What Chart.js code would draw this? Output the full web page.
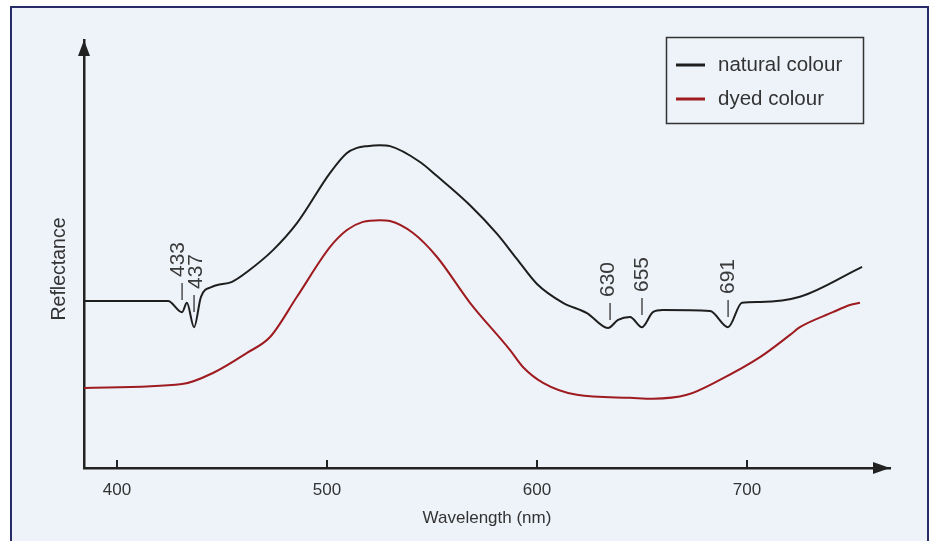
<!DOCTYPE html>
<html lang="en">
<head>
    <meta charset="UTF-8">
    <title>Reflectance spectra - natural vs dyed colour</title>
    <script src="https://cdn.jsdelivr.net/npm/chart.js"></script>
    <style>
        html, body { margin: 0; padding: 0; background: #ffffff; }
        body { width: 935px; height: 541px; position: relative; overflow: hidden; }
        #frame {
            position: absolute; left: 10px; top: 6px; width: 915px; height: 533px;
            background: #eef3fa; border: 2px solid #272b66; border-bottom: none;
        }
        .chart-container { position: absolute; left: 0; top: 0; width: 935px; height: 541px; }
    </style>
</head>
<body>
    <div id="frame"></div>
    <div class="chart-container">
        <canvas id="spectrumChart"></canvas>
    </div>

    <script>
        // natural colour (black curve): wavelength (nm) / reflectance (arbitrary units)
        const naturalWl = [384.3, 424.3, 431.0, 433.3, 436.7, 440.0, 445.2, 454.8, 461.9, 474.3,
                           485.7, 501.4, 509.5, 514.3, 519.0, 525.2, 530.0, 544.3, 552.4, 568.1,
                           581.0, 590.5, 600.0, 612.4, 623.8, 633.8, 638.6, 644.3, 650.0, 655.2,
                           660.0, 682.4, 691.0, 697.6, 706.2, 725.2, 754.8];
        const naturalR  = [39.0, 39.0, 36.4, 38.6, 32.9, 40.0, 42.3, 43.5, 45.8, 50.9,
                           57.2, 68.9, 73.6, 74.8, 75.2, 75.4, 75.2, 71.5, 68.2, 61.4,
                           54.7, 48.8, 43.0, 38.6, 36.2, 32.7, 34.6, 35.3, 32.9, 36.4,
                           36.9, 36.7, 32.9, 38.6, 38.8, 40.0, 47.0];

        // dyed colour (red curve)
        const dyedWl = [384.3, 431.0, 445.7, 461.9, 472.9, 485.7, 501.4, 509.5, 517.1, 525.2,
                        530.0, 541.0, 552.4, 568.1, 587.1, 593.3, 602.9, 619.0, 644.3, 655.2,
                        671.4, 687.1, 706.2, 720.5, 725.2, 740.9, 749.0, 753.8];
        const dyedR  = [18.7, 19.6, 22.2, 26.9, 30.6, 40.0, 51.6, 55.6, 57.5, 57.9,
                        57.7, 54.9, 49.3, 38.6, 27.6, 23.6, 19.9, 17.1, 16.4, 16.2,
                        17.1, 20.6, 25.9, 31.1, 32.9, 36.4, 38.1, 38.6];

        const xTicks = [400, 500, 600, 700];

        // absorption markers on the natural curve
        const peakLabels = ['433', '437', '630', '655', '691'];
        const peakWl     = [431.0, 436.7, 634.8, 650.0, 691.0];
        const peakBase   = [39.25, 36.45, 34.58, 35.75, 35.28];

        const ink = '#222222';
        const textColor = '#333333';
        const family = '"Liberation Sans", Arial, sans-serif';

        const decorPlugin = {
            id: 'decor',
            afterDraw(chart) {
                const { ctx, chartArea: a, scales: { x, y } } = chart;
                ctx.save();

                // tick marks pointing up from the x axis
                ctx.strokeStyle = ink;
                ctx.lineWidth = 2;
                xTicks.forEach(v => {
                    const px = x.getPixelForValue(v);
                    ctx.beginPath();
                    ctx.moveTo(px, a.bottom);
                    ctx.lineTo(px, a.bottom - 8);
                    ctx.stroke();
                });

                // arrow heads
                ctx.fillStyle = ink;
                ctx.beginPath();
                ctx.moveTo(a.left, a.top);
                ctx.lineTo(a.left - 6, a.top + 16);
                ctx.lineTo(a.left + 6, a.top + 16);
                ctx.closePath();
                ctx.fill();
                ctx.beginPath();
                ctx.moveTo(a.right, a.bottom);
                ctx.lineTo(a.right - 17, a.bottom - 6);
                ctx.lineTo(a.right - 17, a.bottom + 6);
                ctx.closePath();
                ctx.fill();

                // y axis title, a little below the middle of the axis like the original
                ctx.fillStyle = textColor;
                ctx.font = '19.5px ' + family;
                ctx.save();
                ctx.translate(a.left - 24, (a.top + a.bottom) / 2 + 15);
                ctx.rotate(-Math.PI / 2);
                ctx.textAlign = 'center';
                ctx.textBaseline = 'middle';
                ctx.fillText('Reflectance', 0, 0);
                ctx.restore();

                // wavelength markers (the first pair is spread apart a little)
                const textShift = [-4, 2, -2, 0, 0];
                ctx.strokeStyle = '#333';
                ctx.lineWidth = 1.3;
                ctx.fillStyle = '#3a3a3a';
                ctx.font = '21px ' + family;
                peakLabels.forEach((t, i) => {
                    const px = x.getPixelForValue(peakWl[i]);
                    const py = y.getPixelForValue(peakBase[i]);
                    ctx.beginPath();
                    ctx.moveTo(px, py);
                    ctx.lineTo(px, py - 17);
                    ctx.stroke();
                    ctx.save();
                    ctx.translate(px + textShift[i], py - 23);
                    ctx.rotate(-Math.PI / 2);
                    ctx.textAlign = 'left';
                    ctx.textBaseline = 'middle';
                    ctx.fillText(t, 0, 0);
                    ctx.restore();
                });

                // legend box
                const lx = 666, ly = 37, lw = 197, lh = 86;
                ctx.strokeStyle = '#333';
                ctx.lineWidth = 1.5;
                ctx.strokeRect(lx + 0.5, ly + 0.5, lw, lh);
                ctx.font = '20.5px ' + family;
                ctx.textAlign = 'left';
                ctx.textBaseline = 'middle';
                chart.data.datasets.forEach((ds, i) => {
                    const yy = ly + 28 + i * 34;
                    ctx.strokeStyle = ds.borderColor;
                    ctx.lineWidth = 3;
                    ctx.beginPath();
                    ctx.moveTo(lx + 10, yy);
                    ctx.lineTo(lx + 39, yy);
                    ctx.stroke();
                    ctx.fillStyle = textColor;
                    ctx.fillText(ds.label, lx + 52, yy);
                });

                ctx.restore();
            }
        };

        const ctxSpectrum = document.getElementById('spectrumChart').getContext('2d');
        new Chart(ctxSpectrum, {
            type: 'line',
            data: {
                datasets: [
                    {
                        label: 'natural colour',
                        data: naturalWl.map((w, i) => ({ x: w, y: naturalR[i] })),
                        borderColor: '#1e1e1e',
                        borderWidth: 2,
                        pointRadius: 0,
                        cubicInterpolationMode: 'monotone',
                        fill: false
                    },
                    {
                        label: 'dyed colour',
                        data: dyedWl.map((w, i) => ({ x: w, y: dyedR[i] })),
                        borderColor: '#9e1b1f',
                        borderWidth: 2,
                        pointRadius: 0,
                        cubicInterpolationMode: 'monotone',
                        fill: false
                    }
                ]
            },
            options: {
                responsive: true,
                maintainAspectRatio: false,
                animation: false,
                layout: { padding: { left: 45, right: 45, top: 40, bottom: 8 } },
                scales: {
                    x: {
                        type: 'linear',
                        min: 384.3,
                        max: 768.1,
                        afterBuildTicks: s => { s.ticks = xTicks.map(v => ({ value: v })); },
                        afterFit: s => { s.height = 65; },
                        grid: { display: false, drawTicks: false },
                        border: { display: true, color: ink, width: 2.5 },
                        ticks: { padding: 12, color: textColor, maxRotation: 0, font: { size: 17, family: family } },
                        title: { display: true, text: 'Wavelength (nm)', color: textColor, padding: 4, font: { size: 17, family: family } }
                    },
                    y: {
                        min: 0,
                        max: 100,
                        afterFit: s => { s.width = 39; },
                        grid: { display: false, drawTicks: false },
                        border: { display: true, color: ink, width: 2.5 },
                        ticks: { display: false },
                        title: { display: false }
                    }
                },
                plugins: {
                    legend: { display: false },
                    tooltip: { enabled: false }
                }
            },
            plugins: [decorPlugin]
        });
    </script>
</body>
</html>
